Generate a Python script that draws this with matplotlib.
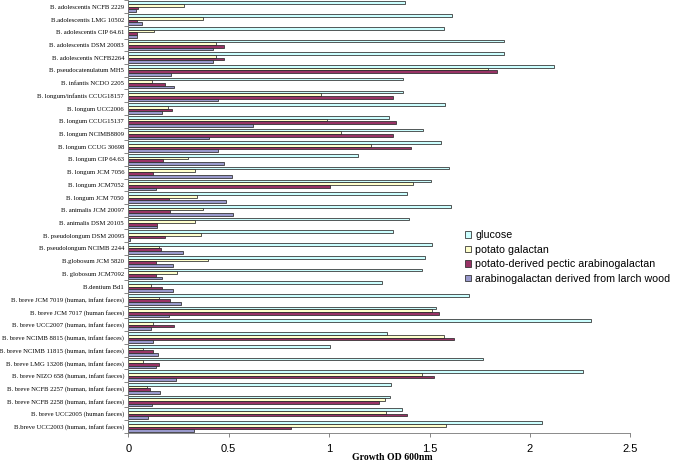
import matplotlib
matplotlib.use("Agg")
import matplotlib.pyplot as plt
import numpy as np

categories = [
    "B. adolescentis NCFB 2229",
    "B.adolescentis LMG 10502",
    "B. adolescentis CIP 64.61",
    "B. adolescentis DSM 20083",
    "B. adolescentis NCFB2264",
    "B. pseudocatenulatum MH5",
    "B. infantis NCDO 2205",
    "B. longum/infantis CCUG18157",
    "B. longum UCC2006",
    "B. longum CCUG15137",
    "B. longum NCIMB8809",
    "B. longum CCUG 30698",
    "B. longum CIP 64.63",
    "B. longum JCM 7056",
    "B. longum JCM7052",
    "B. longum JCM 7050",
    "B. animalis JCM 20097",
    "B. animalis DSM 20105",
    "B. pseudolongum DSM 20095",
    "B. pseudolongum NCIMB 2244",
    "B.globosum JCM 5820",
    "B. globosum JCM7092",
    "B.dentium Bd1",
    "B. breve JCM 7019 (human, infant faeces)",
    "B. breve JCM 7017 (human faeces)",
    "B. breve UCC2007 (human, infant faeces)",
    "B. breve NCIMB 8815 (human, infant faeces)",
    "B. breve NCIMB 11815 (human, infant faeces)",
    "B. breve LMG 13208 (human, infant faeces)",
    "B. breve NIZO 658 (human, infant faeces)",
    "B. breve NCFB 2257 (human, infant faeces)",
    "B. breve NCFB 2258 (human, infant faeces)",
    "B. breve UCC2005 (human faeces)",
    "B.breve UCC2003 (human, infant faeces)",
]

glucose = [1.38, 1.61, 1.57, 1.87, 1.87, 2.12, 1.37, 1.37, 1.575, 1.30,
           1.465, 1.555, 1.145, 1.595, 1.505, 1.39, 1.605, 1.40, 1.32, 1.51,
           1.475, 1.46, 1.265, 1.695, 1.53, 2.305, 1.29, 1.005, 1.765, 2.265,
           1.31, 1.305, 1.365, 2.06]
potato_galactan = [0.28, 0.37, 0.13, 0.435, 0.435, 1.79, 0.12, 0.96, 0.20, 0.99,
                   1.06, 1.21, 0.295, 0.33, 1.42, 0.34, 0.37, 0.33, 0.36, 0.155,
                   0.395, 0.245, 0.115, 0.155, 1.51, 0.125, 1.57, 0.075, 0.075, 1.46,
                   0.093, 1.28, 1.285, 1.58]
pectic_ag = [0.048, 0.043, 0.043, 0.478, 0.478, 1.835, 0.182, 1.32, 0.217, 1.335,
             1.32, 1.41, 0.174, 0.123, 1.003, 0.202, 0.207, 0.141, 0.181, 0.164,
             0.139, 0.138, 0.168, 0.209, 1.546, 0.23, 1.624, 0.124, 0.153, 1.524,
             0.108, 1.247, 1.39, 0.81]
larch_ag = [0.038, 0.068, 0.043, 0.421, 0.421, 0.212, 0.226, 0.446, 0.169, 0.619,
            0.401, 0.445, 0.476, 0.517, 0.138, 0.489, 0.521, 0.141, 0.007, 0.275,
            0.221, 0.168, 0.221, 0.265, 0.202, 0.114, 0.123, 0.146, 0.138, 0.237,
            0.158, 0.118, 0.096, 0.325]

series_names = ["glucose", "potato galactan",
                "potato-derived pectic arabinogalactan",
                "arabinogalactan derived from larch wood"]
colors = ["#CCFFFF", "#FFFFCC", "#993366", "#9999CC"]
series = [glucose, potato_galactan, pectic_ag, larch_ag]

fig = plt.figure(figsize=(6.75, 4.62), dpi=100)
ax = fig.add_axes([0.19, 0.063, 0.744, 0.936])

y = np.arange(len(categories))
h = 0.21
offsets = [-1.5 * h, -0.5 * h, 0.5 * h, 1.5 * h]
for vals, name, c, off in zip(series, series_names, colors, offsets):
    ax.barh(y + off, vals, height=h, color=c, edgecolor="#2a2a2a",
            linewidth=0.55, label=name)

ax.set_ylim(len(categories) - 0.5, -0.5)
ax.set_xlim(0, 2.5)
ax.set_xticks([0, 0.5, 1, 1.5, 2, 2.5])
ax.set_xticklabels(["0", "0.5", "1", "1.5", "2", "2.5"],
                   fontsize=8, family="Liberation Sans")
ax.set_yticks(y)
ax.set_yticklabels(categories, fontsize=4.8, family="Liberation Serif")
ax.tick_params(axis="y", length=0, pad=3)
ax.set_yticks(np.arange(-0.5, len(categories), 1), minor=True)
ax.tick_params(axis="y", which="minor", length=3, width=0.5, color="#555555")
ax.tick_params(axis="x", length=3, width=0.5, color="#555555", pad=5)

for s in ["top", "right"]:
    ax.spines[s].set_visible(False)
for s in ["left", "bottom"]:
    ax.spines[s].set_color("#777777")
    ax.spines[s].set_linewidth(0.6)

fig.text(392 / 675, 1 - 458 / 462, "Growth OD 600nm", fontsize=7,
         fontweight="bold", family="Liberation Serif", ha="center", va="center")

leg = ax.legend(loc="upper left", bbox_to_anchor=(458 / 675, 1 - 223 / 462),
                bbox_transform=fig.transFigure, frameon=False,
                prop={"family": "Liberation Sans", "size": 7.7},
                handlelength=0.55, handleheight=0.55, handletextpad=0.35,
                labelspacing=0.42, borderaxespad=0.3)

fig.savefig("out.png", dpi=100)
